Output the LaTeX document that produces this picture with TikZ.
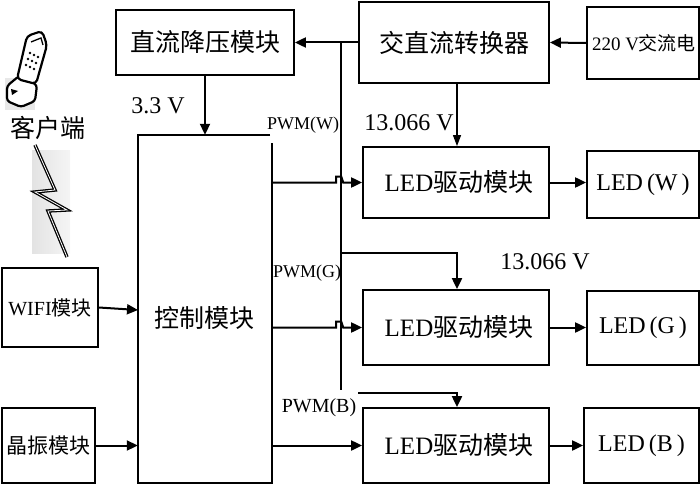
\documentclass[tikz,border=0pt]{standalone}
\usepackage{fontspec}
\setmainfont{Liberation Serif}
\newfontfamily\cjk{Noto Sans CJK SC}
\usetikzlibrary{arrows.meta}
\newcommand{\zh}[1]{{\cjk #1}}
\newcommand{\ledlbl}[1]{LED\hspace{4pt}(#1\hspace{4pt})}
\tikzset{
  box/.style={draw, line width=1.8pt, inner sep=0pt, font=\fontsize{25}{27}\selectfont},
  ledbox/.style={box, font=\fontsize{24}{26}\selectfont},
  arr/.style={line width=2pt, -{Triangle[length=11pt,width=10pt]}},
  tarr/.style={line width=1.1pt, -{Triangle[length=11pt,width=8pt]}},
  wire/.style={line width=2pt},
  lbl/.style={inner sep=0pt, font=\fontsize{24}{26}\selectfont},
  plbl/.style={inner sep=0pt, font=\fontsize{18}{20}\selectfont},
}
\begin{document}
\begin{tikzpicture}[x=1pt,y=-1pt]
\useasboundingbox (0,0) rectangle (700,484);
% client icon
\fill[gray!18] (5,78) rectangle (35,110);
\draw[line width=2.2pt, rounded corners=3pt, fill=white] (7,86) -- (19,76) -- (37,85) -- (35,101) -- (21,107) -- (7,101) -- cycle;
\fill (11,89) -- (18,91) -- (12,95) -- cycle;
\draw[line width=2.2pt, rounded corners=4pt, fill=white] (27,36) -- (42,31) -- (47,45) -- (36,84) -- (17,79) -- cycle;
\draw[line width=1.3pt] (31,42) -- (41,38) -- (43,45);
\foreach \p in {(30,53),(34,55),(38,57),(28,59),(32,61),(36,63),(26,65),(30,67),(34,69)}
  \fill \p circle (1.3pt);
\node[lbl, font=\fontsize{25}{27}\selectfont] (client) at (48,128) {\zh{客户端}};
% lightning
\shade[left color=gray!22, right color=gray!8] (32,150) rectangle (70,253);
\draw[line width=1.3pt, double=white, double distance=0.8pt, line join=miter]
  (35,145) -- (55,190) -- (35,192) -- (67,210) -- (48,211) -- (67,257);
% boxes
\node[box, minimum width=178pt, minimum height=65pt] (dcdc) at (205,42.5) {\zh{直流降压模块}};
\node[box, minimum width=190pt, minimum height=81pt] (acdc) at (454,42.5) {\zh{交直流转换器}};
\node[box, minimum width=112pt, minimum height=72pt, font=\fontsize{19}{20}\selectfont] (ac) at (643,43) {\hspace*{2pt}220 V\zh{交流电}};
\node[inner sep=0pt, minimum width=134pt, minimum height=348pt] (ctrl) at (205,309) {};
\draw[line width=1.8pt] (270,135) -- (138,135) -- (138,483) -- (272,483) -- (272,143);
\node[lbl, font=\fontsize{25}{27}\selectfont] (ctrltxt) at (204,318) {\zh{控制模块}};
\node[box, minimum width=96pt, minimum height=79pt, font=\fontsize{20}{22}\selectfont] (wifi) at (50,307.5) {WIFI\zh{模块}};
\node[box, minimum width=93pt, minimum height=75pt, font=\fontsize{21}{23}\selectfont] (xtal) at (48.5,445.5) {\zh{晶振模块}};
\node[box, minimum width=186pt, minimum height=71pt] (drvW) at (456,182.5) {\hspace*{6pt}LED\zh{驱动模块}};
\node[box, minimum width=186pt, minimum height=75pt] (drvG) at (456,327.5) {\hspace*{6pt}LED\zh{驱动模块}};
\node[box, minimum width=186pt, minimum height=75pt] (drvB) at (456,445.5) {\hspace*{6pt}LED\zh{驱动模块}};
\node[ledbox, minimum width=112pt, minimum height=67pt] (ledW) at (643,184.5) {\ledlbl{W}};
\node[ledbox, minimum width=112pt, minimum height=74pt] (ledG) at (643,328) {\ledlbl{G}};
\node[ledbox, minimum width=115pt, minimum height=75pt] (ledB) at (641.5,445.5) {\ledlbl{B}};
% labels
\node[lbl] (v33) at (158,106) {3.3 V};
\node[lbl] (v13a) at (409,123) {13.066 V};
\node[lbl] (v13b) at (545,262) {13.066 V};
\node[plbl] (pw) at (303,125) {PWM(W)};
\node[plbl] (pg) at (307,273) {PWM(G)};
\node[plbl, font=\fontsize{20}{22}\selectfont] (pb) at (319,408) {PWM(B)};
% power connectors
\draw[arr] (ac.west) -- (acdc.west -| acdc.east);
\draw[arr] (acdc.west) -- (dcdc.east);
\coordinate (bt) at (341,42.5);
\coordinate (bb) at (341,390);
\draw[wire] (bt) -- (bb);
\coordinate (gj) at (341,253);
\draw[arr] (gj) -| ([xshift=1pt]drvG.north);
\coordinate (bj) at (358,393);
\draw[arr] (bj) -| ([xshift=1pt]drvB.north);
\draw[tarr] ([xshift=3pt]acdc.south) -- ([xshift=1pt]drvW.north);
\draw[arr] (dcdc.south) -- (dcdc.south |- ctrl.north);
% PWM connectors
\draw[arr] (ctrl.east |- drvW.west) -- ++(64,0) -- ++(0,-6) -- ++(5,0) -- ++(2,6) -- (drvW.west);
\draw[arr] (ctrl.east |- drvG.west) -- ++(64,0) -- ++(0,-6) -- ++(5,0) -- ++(2,6) -- (drvG.west);
\draw[arr] (ctrl.east |- drvB.west) -- (drvB.west);
% inputs
\coordinate (wifiin) at (138,310);
\draw[arr] (wifi.east) -- (wifiin);
\draw[arr] (xtal.east) -- (xtal.east -| ctrl.west);
% outputs
\draw[arr] (drvW.east) -- (drvW.east -| ledW.west);
\draw[arr] (drvG.east) -- (drvG.east -| ledG.west);
\draw[arr] (drvB.east) -- (drvB.east -| ledB.west);
\end{tikzpicture}
\end{document}
